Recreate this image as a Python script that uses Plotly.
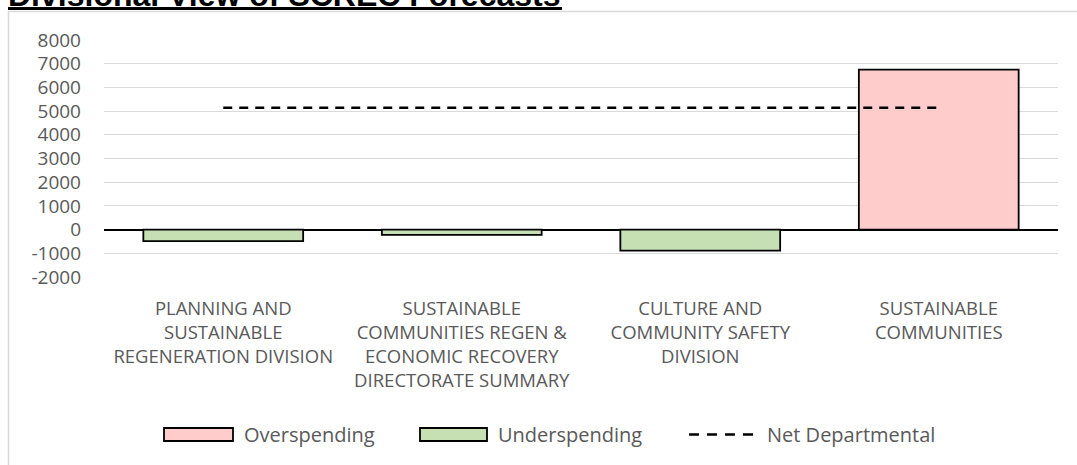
import plotly.graph_objects as go

# ---- data ----
categories = [
    "PLANNING AND<br>SUSTAINABLE<br>REGENERATION DIVISION",
    "SUSTAINABLE<br>COMMUNITIES REGEN &<br>ECONOMIC RECOVERY<br>DIRECTORATE SUMMARY",
    "CULTURE AND<br>COMMUNITY SAFETY<br>DIVISION",
    "SUSTAINABLE<br>COMMUNITIES",
]
overspending = [None, None, None, 6750]
underspending = [-490, -225, -890, None]
net_departmental = [5140, 5140, 5140, 5140]
y_tick_values = [-2000, -1000, 0, 1000, 2000, 3000, 4000, 5000, 6000, 7000, 8000]
y_tick_labels = ["-2000", "-1000", "0", "1000", "2000", "3000", "4000", "5000", "6000", "7000", "8000"]
series_names = ["Overspending", "Underspending", "Net Departmental"]
title_text = "Divisional View of SCREC Forecasts"

# ---- styling ----
W, H = 1077, 465
L, R, T, B = 104, 19, 40, 188
PW, PH = W - L - R, H - T - B
TXT = "#595959"
FONT = "Open Sans"
PINK = "#FFCCCC"
GREEN = "#C6E0B4"


def px(x):
    return (x - L) / PW


def py(y):
    return (H - B - y) / PH


fig = go.Figure()
fig.add_trace(go.Bar(x=categories, y=overspending, name=series_names[0],
                     marker=dict(color=PINK, line=dict(color="black", width=1.8)),
                     width=0.67, showlegend=False))
fig.add_trace(go.Bar(x=categories, y=underspending, name=series_names[1],
                     marker=dict(color=GREEN, line=dict(color="black", width=1.8)),
                     width=0.67, showlegend=False))
fig.add_trace(go.Scatter(x=categories, y=net_departmental, name=series_names[2],
                         mode="lines", line=dict(color="black", width=2.6, dash="9px,7px"),
                         showlegend=False))

shapes = []
annotations = []

# chart-area border
shapes.append(dict(type="rect", xref="paper", yref="paper",
                   x0=px(8.5), x1=px(1090), y0=py(11.5), y1=py(480),
                   line=dict(color="#d9d9d9", width=1.5), fillcolor="rgba(0,0,0,0)", layer="below"))

# title (partly cut at top) with underline
annotations.append(dict(text="<b>" + title_text + "</b>", xref="paper", yref="paper",
                        x=px(6), y=py(14.5), xanchor="left", yanchor="bottom", showarrow=False,
                        font=dict(family="Liberation Sans", size=32, color="black")))
shapes.append(dict(type="line", xref="paper", yref="paper", x0=px(8), x1=px(562),
                   y0=py(8.5), y1=py(8.5), line=dict(color="black", width=3)))

# custom legend
leg_y = 434.5
legend_items = [
    (series_names[0], "box", PINK, 164, 233, 242),
    (series_names[1], "box", GREEN, 420, 487, 496),
    (series_names[2], "dash", None, 689, 755, 765),
]
for name, kind, col, x0, x1, tx in legend_items:
    if kind == "box":
        shapes.append(dict(type="rect", xref="paper", yref="paper",
                           x0=px(x0), x1=px(x1), y0=py(leg_y - 6.5), y1=py(leg_y + 6.5),
                           fillcolor=col, line=dict(color="black", width=1.8)))
    else:
        shapes.append(dict(type="line", xref="paper", yref="paper",
                           x0=px(x0), x1=px(x1), y0=py(leg_y), y1=py(leg_y),
                           line=dict(color="black", width=2.6, dash="10px,8px")))
    annotations.append(dict(text=name, xref="paper", yref="paper", x=px(tx), y=py(leg_y),
                            xanchor="left", yanchor="middle", showarrow=False,
                            font=dict(family=FONT, size=20, color=TXT)))

fig.update_layout(
    width=W, height=H,
    margin=dict(l=L, r=R, t=T, b=B, pad=0, autoexpand=False),
    paper_bgcolor="white", plot_bgcolor="white",
    barmode="overlay",
    showlegend=False,
    shapes=shapes,
    annotations=annotations,
    font=dict(family=FONT, color=TXT),
    xaxis=dict(showgrid=False, showline=False, ticks="", zeroline=False, automargin=False,
               tickfont=dict(family=FONT, size=18.5, color=TXT),
               ticklabelstandoff=18, fixedrange=True),
    yaxis=dict(range=[-2000, 8000], tickvals=y_tick_values, ticktext=y_tick_labels,
               showgrid=True, gridcolor="#d9d9d9", gridwidth=1.3, automargin=False,
               zeroline=True, zerolinecolor="black", zerolinewidth=1.6,
               showline=False, ticks="",
               tickfont=dict(family=FONT, size=19, color=TXT),
               ticklabelstandoff=22, fixedrange=True),
)

fig.write_html(
    "out.html",
    config={"displayModeBar": False},
    post_script="document.body.style.margin='0';document.documentElement.style.overflow='hidden';",
)
